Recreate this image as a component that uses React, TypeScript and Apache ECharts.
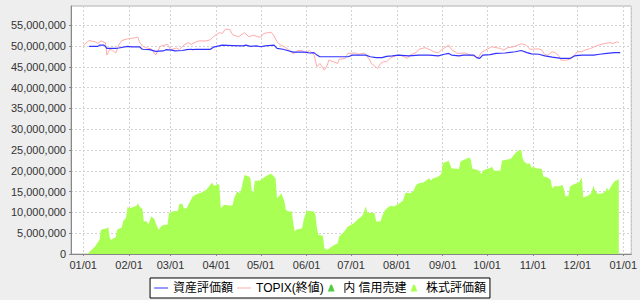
import React, { useEffect, useRef } from 'react';
import * as echarts from 'echarts';

// Values in millions of yen, dates as MM-DD within YEAR
const YEAR = 2013;

const assetValue: [string, number][] = [
  ['01-05', 49.9], ['01-11', 49.9], ['01-12', 50.2], ['01-15', 50.2], ['01-16', 49.9], ['01-17', 49.4],
  ['01-21', 49.4], ['01-23', 49.4], ['01-25', 49.5], ['01-31', 49.9], ['02-03', 49.8], ['02-08', 49.8],
  ['02-10', 49.2], ['02-15', 49.1], ['02-19', 48.7], ['02-24', 48.8], ['02-26', 49.1], ['03-02', 49.0],
  ['03-04', 48.8], ['03-09', 48.9], ['03-12', 49.1], ['03-15', 49.2], ['03-16', 49.1], ['03-18', 49.2],
  ['03-28', 49.2], ['03-30', 49.7], ['04-05', 50.2], ['04-12', 50.1], ['04-19', 50.0], ['04-21', 50.2],
  ['04-24', 49.9], ['04-28', 50.0], ['05-01', 49.8], ['05-04', 50.0], ['05-10', 50.2], ['05-12', 49.4],
  ['05-16', 49.2], ['05-19', 48.9], ['05-23', 48.5], ['05-31', 48.5], ['06-03', 48.3], ['06-06', 48.4],
  ['06-08', 47.8], ['06-10', 47.4], ['06-18', 47.4], ['06-29', 47.4], ['07-02', 47.8], ['07-11', 47.8],
  ['07-14', 47.4], ['07-18', 47.2], ['07-22', 47.2], ['07-25', 47.5], ['07-29', 47.6], ['08-02', 47.8],
  ['08-09', 47.6], ['08-16', 47.8], ['08-23', 47.8], ['08-29', 47.6], ['09-02', 48.0], ['09-05', 48.2],
  ['09-07', 47.8], ['09-12', 47.6], ['09-15', 47.8], ['09-22', 47.8], ['09-24', 47.2], ['09-26', 47.0],
  ['09-28', 47.8], ['10-03', 47.9], ['10-07', 48.2], ['10-13', 48.3], ['10-20', 48.6], ['10-24', 48.9],
  ['10-28', 48.4], ['10-31', 48.1], ['11-05', 48.0], ['11-09', 47.6], ['11-14', 47.3], ['11-20', 47.0],
  ['11-26', 47.0], ['11-29', 47.6], ['12-04', 47.8], ['12-12', 47.8], ['12-16', 48.0], ['12-21', 48.2],
  ['12-26', 48.4], ['12-30', 48.4],
];

const topixClose: [string, number][] = [
  ['01-01', 50.0], ['01-02', 50.4], ['01-05', 51.3], ['01-09', 51.0], ['01-11', 50.6], ['01-13', 51.2],
  ['01-16', 50.8], ['01-17', 47.8], ['01-19', 49.2], ['01-21', 48.9], ['01-23', 48.3], ['01-25', 50.2],
  ['01-27', 51.3], ['01-31', 51.7], ['02-02', 51.8], ['02-07', 52.1], ['02-08', 51.0], ['02-10', 50.0],
  ['02-13', 49.5], ['02-16', 49.3], ['02-19', 47.8], ['02-22', 49.9], ['02-27', 50.4], ['03-01', 49.1],
  ['03-03', 49.3], ['03-05', 49.5], ['03-07', 49.1], ['03-10', 50.2], ['03-13', 50.8], ['03-15', 50.4],
  ['03-18', 50.9], ['03-20', 51.2], ['03-25', 51.2], ['03-28', 51.5], ['03-30', 52.2], ['04-03', 53.2],
  ['04-05', 53.0], ['04-07', 54.0], ['04-10', 54.0], ['04-12', 52.7], ['04-16', 52.2], ['04-20', 53.2],
  ['04-23', 52.2], ['04-26', 52.6], ['04-29', 52.2], ['05-01', 52.1], ['05-03', 53.0], ['05-08', 53.3],
  ['05-10', 52.4], ['05-12', 51.0], ['05-14', 50.3], ['05-17', 49.8], ['05-20', 49.0], ['05-23', 48.1],
  ['05-26', 48.9], ['05-29', 48.9], ['05-31', 48.3], ['06-03', 48.9], ['06-06', 47.8], ['06-08', 45.0],
  ['06-10', 45.8], ['06-13', 44.2], ['06-15', 45.4], ['06-16', 46.6], ['06-19', 46.2], ['06-22', 45.8],
  ['06-23', 46.8], ['06-27', 47.0], ['06-29', 48.2], ['07-04', 48.3], ['07-06', 48.0], ['07-10', 48.3],
  ['07-13', 47.0], ['07-15', 45.7], ['07-19', 44.6], ['07-21', 45.8], ['07-23', 46.2], ['07-25', 46.2],
  ['07-28', 47.2], ['07-31', 47.6], ['08-03', 47.8], ['08-06', 47.4], ['08-08', 47.0], ['08-10', 47.8],
  ['08-14', 48.4], ['08-16', 49.2], ['08-20', 49.6], ['08-24', 49.0], ['08-26', 48.6], ['08-29', 48.3],
  ['08-31', 49.0], ['09-05', 50.2], ['09-07', 49.1], ['09-11', 48.2], ['09-16', 48.3], ['09-23', 47.4],
  ['09-25', 47.1], ['09-27', 48.4], ['09-30', 49.0], ['10-04', 49.8], ['10-10', 49.4], ['10-12', 49.0],
  ['10-15', 49.6], ['10-19', 49.8], ['10-21', 50.1], ['10-24', 50.5], ['10-27', 50.3], ['10-30', 49.2],
  ['11-05', 49.3], ['11-07', 49.0], ['11-09', 47.9], ['11-11', 47.8], ['11-14', 48.6], ['11-16', 48.4],
  ['11-18', 47.8], ['11-20', 46.6], ['11-24', 46.6], ['11-27', 47.0], ['12-01', 48.6], ['12-04', 48.6],
  ['12-06', 49.0], ['12-10', 49.4], ['12-13', 49.9], ['12-16', 50.3], ['12-20', 50.6], ['12-23', 50.8],
  ['12-25', 50.6], ['12-28', 51.0], ['12-29', 50.8],
];

const marginShort: [string, number][] = [];

const stockValue: [string, number][] = [
  ['01-04', 0], ['01-05', 0.4], ['01-09', 1.8], ['01-12', 3.4], ['01-13', 5.8], ['01-17', 6.2],
  ['01-18', 6.4], ['01-19', 3.8], ['01-20', 3.4], ['01-22', 3.9], ['01-23', 4.0], ['01-24', 5.9],
  ['01-27', 6.3], ['01-28', 7.9], ['01-30', 8.7], ['01-31', 11.4], ['02-01', 11.0], ['02-03', 11.2],
  ['02-06', 11.6], ['02-07', 12.2], ['02-08', 11.4], ['02-10', 10.8], ['02-11', 7.9], ['02-13', 7.8],
  ['02-14', 7.1], ['02-16', 9.0], ['02-18', 8.5], ['02-19', 7.4], ['02-21', 5.8], ['02-23', 6.8],
  ['02-25', 7.0], ['02-27', 7.0], ['02-28', 9.8], ['03-02', 10.2], ['03-06', 10.4], ['03-07', 12.0],
  ['03-09', 12.1], ['03-10', 11.0], ['03-12', 11.0], ['03-13', 11.8], ['03-16', 13.8], ['03-19', 14.4],
  ['03-22', 14.8], ['03-25', 15.4], ['03-27', 16.2], ['03-29', 17.2], ['03-30', 16.6], ['03-31', 16.4],
  ['04-02', 16.8], ['04-03', 16.6], ['04-04', 11.0], ['04-06', 11.8], ['04-08', 11.8], ['04-11', 11.6],
  ['04-12', 11.8], ['04-13', 13.4], ['04-15', 15.0], ['04-17', 14.6], ['04-18', 15.8], ['04-20', 19.0],
  ['04-23', 18.6], ['04-24', 18.2], ['04-25', 15.0], ['04-26', 14.8], ['04-27', 17.6], ['04-30', 17.6],
  ['05-02', 18.0], ['05-04', 18.6], ['05-06', 19.0], ['05-08', 19.3], ['05-09', 19.0], ['05-11', 18.2],
  ['05-12', 13.4], ['05-14', 14.2], ['05-15', 14.6], ['05-17', 12.6], ['05-18', 10.6], ['05-20', 10.2],
  ['05-22', 10.2], ['05-23', 7.4], ['05-24', 5.4], ['05-25', 5.8], ['05-29', 6.2], ['05-30', 8.2],
  ['06-01', 10.4], ['06-06', 10.2], ['06-07', 9.4], ['06-08', 6.2], ['06-09', 4.6], ['06-12', 4.4],
  ['06-13', 1.4], ['06-15', 1.0], ['06-18', 1.8], ['06-20', 2.2], ['06-22', 2.6], ['06-23', 4.2],
  ['06-26', 5.2], ['06-29', 6.6], ['07-03', 7.4], ['07-05', 8.2], ['07-07', 8.7], ['07-09', 9.4],
  ['07-11', 11.4], ['07-12', 10.0], ['07-17', 9.8], ['07-18', 7.8], ['07-21', 7.9], ['07-22', 9.0],
  ['07-24', 10.6], ['07-26', 11.2], ['07-28', 11.6], ['07-30', 11.4], ['08-02', 12.0], ['08-05', 12.8],
  ['08-07', 14.8], ['08-10', 14.6], ['08-12', 15.0], ['08-14', 16.6], ['08-16', 17.0], ['08-19', 17.2],
  ['08-21', 17.7], ['08-23', 18.2], ['08-24', 17.6], ['08-25', 18.1], ['08-29', 18.6], ['08-31', 19.2],
  ['09-01', 21.8], ['09-03', 22.1], ['09-05', 22.4], ['09-07', 20.6], ['09-12', 20.4], ['09-13', 22.2],
  ['09-15', 22.6], ['09-19', 23.2], ['09-20', 22.6], ['09-21', 20.5], ['09-25', 20.2], ['09-27', 19.2],
  ['09-28', 20.0], ['10-01', 20.5], ['10-03', 20.6], ['10-04', 21.0], ['10-06', 20.0], ['10-10', 20.0],
  ['10-11', 22.4], ['10-13', 22.6], ['10-17', 22.9], ['10-20', 24.2], ['10-22', 24.9], ['10-24', 25.0],
  ['10-25', 23.0], ['10-26', 22.2], ['10-28', 21.6], ['10-30', 21.8], ['10-31', 20.6], ['11-01', 21.0],
  ['11-03', 20.6], ['11-07', 20.4], ['11-08', 18.6], ['11-11', 18.4], ['11-13', 17.8], ['11-14', 15.8],
  ['11-16', 16.4], ['11-18', 16.2], ['11-21', 16.6], ['11-22', 15.4], ['11-23', 13.8], ['11-25', 14.0],
  ['11-26', 16.2], ['11-29', 16.8], ['12-02', 17.2], ['12-04', 18.4], ['12-05', 13.6], ['12-07', 13.8],
  ['12-10', 14.4], ['12-12', 16.4], ['12-13', 15.2], ['12-15', 14.4], ['12-18', 14.6], ['12-20', 15.0],
  ['12-21', 16.0], ['12-22', 15.2], ['12-24', 16.4], ['12-26', 17.4], ['12-28', 17.8], ['12-29', 18.0],
];

const legendNames = ['資産評価額', 'TOPIX(終値)', '内 信用売建', '株式評価額'];

const toTime = (md: string) => {
  const [m, d] = md.split('-').map(Number);
  return new Date(YEAR, m - 1, d).getTime();
};
const toSeries = (arr: [string, number][]) => arr.map(([md, v]) => [toTime(md), v * 1e6]);
const pad = (n: number) => (n < 10 ? '0' + n : '' + n);

const FONT = '"Liberation Sans", Arial, "Noto Sans CJK JP", sans-serif';
const BELL = 'path://M0,7 L2,1.6 Q3,0 4,1.6 L6,7 Z';
const LINE_ICON = 'path://M0,0 L14,0 L14,1 L0,1 Z';

export default function App() {
  const ref = useRef<HTMLDivElement>(null);
  useEffect(() => {
    if (!ref.current) return;
    const chart = echarts.init(ref.current, undefined, { renderer: 'svg' });
    const DAY = 864e5;
    chart.setOption({
      animation: false,
      backgroundColor: '#eeeeee',
      textStyle: { fontFamily: FONT },
      grid: {
        left: 71, right: 8, top: 6, bottom: 46,
        show: true, backgroundColor: '#ffffff', borderColor: '#b4b4b4', borderWidth: 1,
      },
      legend: {
        bottom: 2,
        left: 'center',
        padding: [4, 4],
        itemGap: 4,
        itemWidth: 14,
        itemHeight: 7,
        borderColor: '#000',
        borderWidth: 1,
        backgroundColor: '#ffffff',
        textStyle: { fontSize: 12, color: '#000', fontFamily: FONT },
        data: [
          { name: legendNames[0], icon: LINE_ICON },
          { name: legendNames[1], icon: LINE_ICON },
          { name: legendNames[2], icon: BELL },
          { name: legendNames[3], icon: BELL },
        ],
      },
      xAxis: {
        type: 'time',
        min: new Date(YEAR - 1, 11, 23, 18).getTime(),
        max: new Date(YEAR + 1, 0, 6, 10).getTime(),
        splitNumber: 12,
        minInterval: 28 * DAY,
        maxInterval: 31 * DAY,
        axisLine: { show: true, lineStyle: { color: '#888888', width: 1 } },
        axisTick: { show: true, length: 2, lineStyle: { color: '#888888' } },
        axisLabel: {
          fontSize: 11, color: '#333', margin: 5, fontFamily: FONT, hideOverlap: false,
          formatter: (v: number) => {
            const d = new Date(v);
            return pad(d.getMonth() + 1) + '/' + pad(d.getDate());
          },
        },
        splitLine: { show: true, lineStyle: { color: '#d2d2d2', type: [2, 2], width: 1 } },
      },
      yAxis: {
        type: 'value',
        min: 0,
        max: 59.6e6,
        interval: 5e6,
        axisLine: { show: true, lineStyle: { color: '#888888', width: 1 } },
        axisTick: { show: true, length: 2, lineStyle: { color: '#888888' } },
        axisLabel: {
          fontSize: 11, color: '#333', margin: 5, fontFamily: FONT, showMaxLabel: false,
          formatter: (v: number) => Math.round(v).toLocaleString('en-US'),
        },
        splitLine: { show: true, lineStyle: { color: '#d2d2d2', type: [2, 2], width: 1 } },
      },
      series: [
        {
          name: legendNames[3], type: 'line', data: toSeries(stockValue), symbol: 'none',
          color: '#aaff55', lineStyle: { width: 0 }, areaStyle: { color: '#aaff55', opacity: 1 }, z: 1,
        },
        {
          name: legendNames[2], type: 'line', data: toSeries(marginShort), symbol: 'none',
          color: '#55cc44', lineStyle: { width: 0 }, areaStyle: { color: '#55cc44', opacity: 1 }, z: 2,
        },
        {
          name: legendNames[1], type: 'line', data: toSeries(topixClose), symbol: 'none',
          color: '#ffaaaa', lineStyle: { width: 1, color: '#ffaaaa' }, z: 3,
        },
        {
          name: legendNames[0], type: 'line', data: toSeries(assetValue), symbol: 'none',
          color: '#3333ff', lineStyle: { width: 1.2, color: '#3333ff' }, z: 4,
        },
      ],
    });
    return () => chart.dispose();
  }, []);
  return (
    <div
      ref={ref}
      style={{ position: 'fixed', left: 0, top: 0, width: 640, height: 300 }}
    />
  );
}
